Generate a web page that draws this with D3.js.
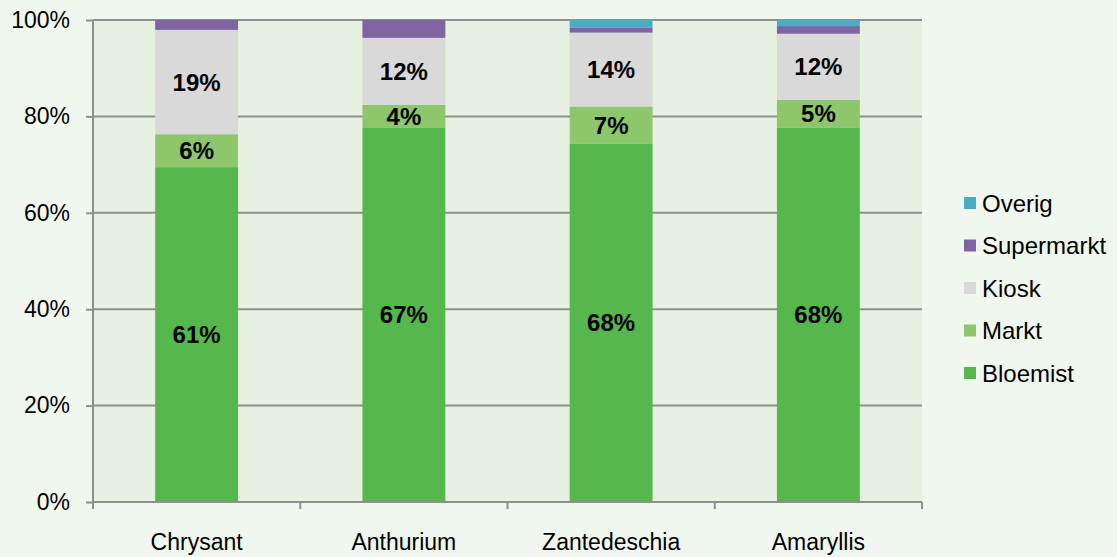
<!DOCTYPE html>
<html>
<head>
<meta charset="utf-8">
<script src="https://cdn.jsdelivr.net/npm/d3@7"></script>
<style>
  html, body { margin: 0; padding: 0; background: #f0f7ee; }
  svg { display: block; font-family: "Liberation Sans", Arial, sans-serif; }
</style>
</head>
<body>
<svg id="chart" width="1117" height="557"></svg>
<script>
// Categories (product groups)
const categories = ["Chrysant", "Anthurium", "Zantedeschia", "Amaryllis"];

// Sales channel shares per product (%), stacked and normalised to 100%
const bloemist   = [61, 67, 68, 68];
const markt      = [6, 4, 7, 5];
const kiosk      = [19, 12, 14, 12];
const supermarkt = [1.8, 3.2, 0.9, 1.4];
const overig     = [0, 0, 1.5, 1.1];

// Which segments carry a value label
const labelled = ["Bloemist", "Markt", "Kiosk"];

// Y axis ticks
const yTicks = [0, 0.2, 0.4, 0.6, 0.8, 1.0];

const seriesNames = ["Bloemist", "Markt", "Kiosk", "Supermarkt", "Overig"];
const seriesValues = [bloemist, markt, kiosk, supermarkt, overig];
const colors = {
  Bloemist: "#56b84c",
  Markt: "#8dc66b",
  Kiosk: "#d9d9d9",
  Supermarkt: "#8064a2",
  Overig: "#4bacc6"
};

const rows = categories.map((c, i) => {
  const r = { category: c };
  seriesNames.forEach((s, k) => { r[s] = seriesValues[k][i]; });
  return r;
});

const stack = d3.stack().keys(seriesNames).offset(d3.stackOffsetExpand);
const layers = stack(rows);

const svg = d3.select("#chart");
const plot = { left: 93, right: 922, top: 20, bottom: 502 };

const x = d3.scaleBand().domain(categories).range([plot.left, plot.right]).paddingInner(0.6).paddingOuter(0.3);
const xb = d3.scaleBand().domain(categories).range([plot.left, plot.right]);
const y = d3.scaleLinear().domain([0, 1]).range([plot.bottom, plot.top]);

// plot area background
svg.append("rect")
  .attr("x", plot.left).attr("y", plot.top)
  .attr("width", plot.right - plot.left).attr("height", plot.bottom - plot.top)
  .attr("fill", "#e7f1e1");

// horizontal gridlines
svg.append("g")
  .selectAll("line")
  .data(yTicks.filter(t => t > 0))
  .join("line")
  .attr("x1", plot.left).attr("x2", plot.right)
  .attr("y1", d => y(d)).attr("y2", d => y(d))
  .attr("stroke", "#8f8f8f").attr("stroke-width", 2);

// bars
const g = svg.append("g");
layers.forEach(layer => {
  g.selectAll(null)
    .data(layer)
    .join("rect")
    .attr("x", d => x(d.data.category))
    .attr("width", x.bandwidth())
    .attr("y", d => y(d[1]))
    .attr("height", d => Math.max(0, y(d[0]) - y(d[1])))
    .attr("fill", colors[layer.key]);
});

// value labels
layers.filter(l => labelled.includes(l.key)).forEach(layer => {
  g.selectAll(null)
    .data(layer)
    .join("text")
    .attr("x", d => x(d.data.category) + x.bandwidth() / 2)
    .attr("y", d => y((d[0] + d[1]) / 2))
    .attr("dy", "0.36em")
    .attr("text-anchor", "middle")
    .attr("font-size", 24)
    .attr("font-weight", "bold")
    .attr("fill", "#000")
    .text(d => d3.format(".0f")(d.data[layer.key]) + "%");
});

// y axis
const yAxis = d3.axisLeft(y).tickValues(yTicks).tickFormat(d3.format(".0%")).tickSize(7).tickPadding(16);
const ya = svg.append("g").attr("transform", `translate(${plot.left},0)`).call(yAxis);
ya.select(".domain").attr("stroke", "#8f8f8f").attr("stroke-width", 2).attr("d", `M0,${plot.top}V${plot.bottom}`);
ya.selectAll(".tick line").attr("stroke", "#8f8f8f").attr("stroke-width", 2);
ya.selectAll(".tick text").attr("font-size", 23).attr("fill", "#000").attr("font-family", "Liberation Sans, Arial, sans-serif");

// x axis with tick marks at category boundaries
const xa = svg.append("g").attr("transform", `translate(0,${plot.bottom})`);
xa.append("line")
  .attr("x1", plot.left).attr("x2", plot.right)
  .attr("stroke", "#8f8f8f").attr("stroke-width", 2);
const boundaries = categories.map(c => xb(c)).concat([plot.right]);
xa.selectAll(".bt")
  .data(boundaries)
  .join("line")
  .attr("x1", d => d).attr("x2", d => d)
  .attr("y1", 0).attr("y2", 7)
  .attr("stroke", "#8f8f8f").attr("stroke-width", 2);
xa.selectAll(".lbl")
  .data(categories)
  .join("text")
  .attr("x", d => xb(d) + xb.bandwidth() / 2)
  .attr("y", 48)
  .attr("text-anchor", "middle")
  .attr("font-size", 23)
  .attr("fill", "#000")
  .text(d => d);

// legend
const legendOrder = seriesNames.slice().reverse();
const lg = svg.append("g").attr("transform", "translate(964,203)");
const item = lg.selectAll("g").data(legendOrder).join("g")
  .attr("transform", (d, i) => `translate(0,${i * 42.5})`);
item.append("rect")
  .attr("x", 0).attr("y", -6).attr("width", 12).attr("height", 12)
  .attr("fill", d => colors[d]);
item.append("text")
  .attr("x", 18).attr("y", 0).attr("dy", "0.36em")
  .attr("font-size", 24).attr("fill", "#000")
  .text(d => d);
</script>
</body>
</html>
